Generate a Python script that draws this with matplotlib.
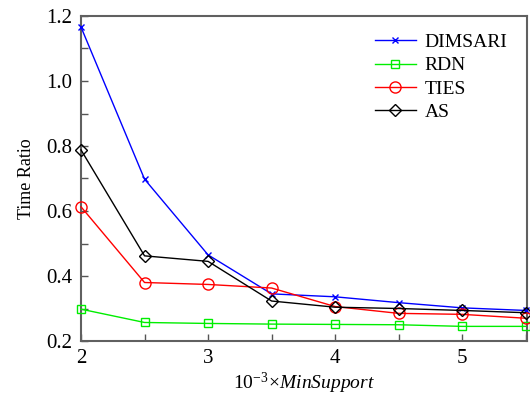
import matplotlib
matplotlib.use("Agg")
import matplotlib.pyplot as plt
from matplotlib.ticker import MultipleLocator, FixedLocator, FixedFormatter

x = [2, 2.5, 3, 3.5, 4, 4.5, 5, 5.5]
dimsari = [1.166, 0.698, 0.465, 0.345, 0.336, 0.318, 0.302, 0.294]
rdn = [0.298, 0.257, 0.254, 0.252, 0.251, 0.250, 0.245, 0.245]
ties = [0.613, 0.380, 0.374, 0.363, 0.306, 0.285, 0.282, 0.270]
as_ = [0.788, 0.462, 0.445, 0.323, 0.304, 0.300, 0.294, 0.287]

xticks = [2, 3, 4, 5]
xticklabels = ["2", "3", "4", "5"]
yticks = [0.2, 0.4, 0.6, 0.8, 1.0, 1.2]
yticklabels = ["0.2", "0.4", "0.6", "0.8", "1.0", "1.2"]

plt.rcParams['font.family'] = ['Liberation Serif', 'DejaVu Serif']
plt.rcParams['mathtext.fontset'] = 'custom'
plt.rcParams['mathtext.rm'] = 'Liberation Serif'
plt.rcParams['mathtext.it'] = 'Liberation Serif:italic'

fig = plt.figure(figsize=(5.3, 3.97), dpi=100)
ax = fig.add_axes([81/530, 56/397, 446/530, 325/397])

ax.plot(x, dimsari, color='#0000ff', lw=1, marker='x', ms=5, mew=1, label='DIMSARI', clip_on=False, zorder=3)
ax.plot(x, rdn, color='#00ee00', lw=1, marker='s', ms=6, mfc='none', mew=1, label='RDN', clip_on=False, zorder=3)
ax.plot(x, ties, color='#ff0000', lw=1, marker='o', ms=8, mfc='none', mew=1, label='TIES', clip_on=False, zorder=3)
ax.plot(x, as_, color='#000000', lw=1, marker='D', ms=6, mfc='none', mew=1, label='AS', clip_on=False, zorder=3)

ax.set_xlim(2, 5.51)
ax.set_ylim(0.2, 1.2)
ax.xaxis.set_major_locator(FixedLocator(xticks))
ax.xaxis.set_major_formatter(FixedFormatter(xticklabels))
ax.xaxis.set_minor_locator(MultipleLocator(0.5))
ax.yaxis.set_major_locator(FixedLocator(yticks))
ax.yaxis.set_major_formatter(FixedFormatter(yticklabels))
ax.yaxis.set_minor_locator(MultipleLocator(0.1))
ax.tick_params(which='both', direction='in', color='#555555', labelsize=15, width=1)
ax.tick_params(which='major', length=5, pad=6)
ax.tick_params(which='minor', length=5)
for s in ax.spines.values():
    s.set_color('#606060')
    s.set_linewidth(1.5)

ax.set_ylabel('Time Ratio', fontsize=13, labelpad=8)
ax.set_xlabel(r'$10^{-3}\!\times\!\mathit{MinSupport}$', fontsize=14, labelpad=2)

leg = ax.legend(loc='upper right', frameon=False, fontsize=14, handlelength=2.1,
                handletextpad=0.45, labelspacing=0.29, borderaxespad=0.5,
                bbox_to_anchor=(0.995, 1.0))

fig.savefig('out.png', dpi=100)
